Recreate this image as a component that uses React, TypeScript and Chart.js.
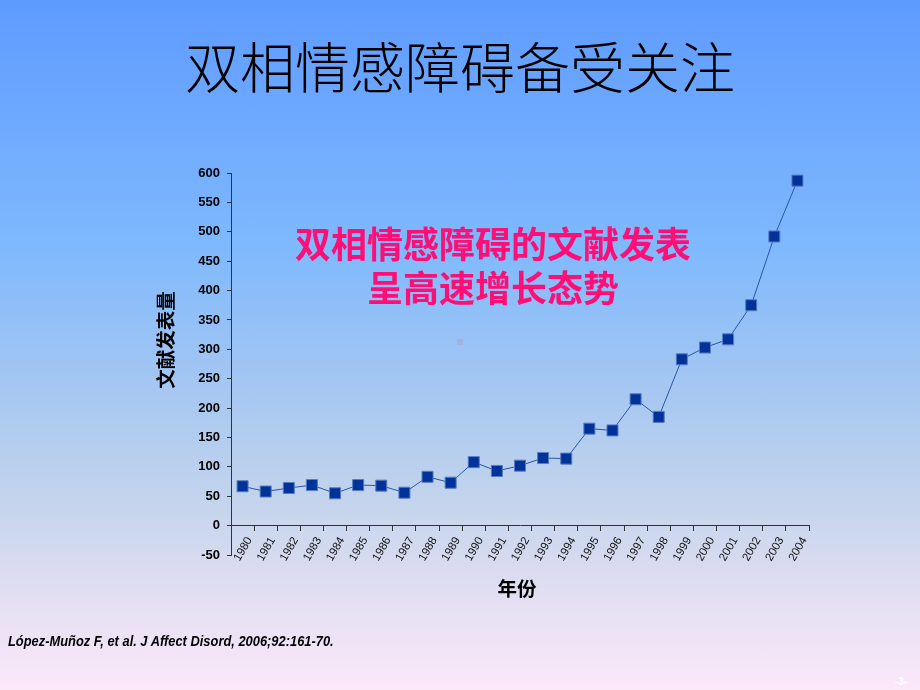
import React, { useEffect, useRef } from "react";
import { Chart, registerables } from "chart.js";

Chart.register(...registerables);

const years: string[] = [
  "1980", "1981", "1982", "1983", "1984", "1985", "1986", "1987", "1988", "1989",
  "1990", "1991", "1992", "1993", "1994", "1995", "1996", "1997", "1998", "1999",
  "2000", "2001", "2002", "2003", "2004",
];
const publications: number[] = [
  67, 58, 64, 69, 55, 69, 68, 56, 83, 73,
  108, 93, 102, 115, 114, 165, 162, 215, 185, 283,
  303, 317, 375, 492, 587,
];
const yMin = -50;
const yMax = 600;
const yStep = 50;

const titleText = "双相情感障碍备受关注";
const noteLines: string[] = ["双相情感障碍的文献发表", "呈高速增长态势"];
const yTitle = "文献发表量";
const xTitle = "年份";
const citation = "López-Muñoz F, et al. J Affect Disord, 2006;92:161-70.";
const pageNo = "-3-";

export default function App() {
  const canvasRef = useRef<HTMLCanvasElement | null>(null);

  useEffect(() => {
    document.body.style.margin = "0";
    const canvas = canvasRef.current;
    if (!canvas) return;
    const chart = new Chart(canvas, {
      type: "line",
      data: {
        labels: years,
        datasets: [
          {
            data: publications,
            borderColor: "#2a56a8",
            borderWidth: 1,
            pointStyle: "rect",
            pointRadius: 7.8,
            pointHoverRadius: 7.8,
            pointBackgroundColor: "#003399",
            pointBorderColor: "#5a7cc0",
            pointBorderWidth: 1,
            fill: false,
            tension: 0,
          },
        ],
      },
      options: {
        responsive: false,
        animation: false,
        layout: { padding: { left: 151, top: 173, right: 111, bottom: 135 } },
        plugins: {
          legend: { display: false },
          tooltip: { enabled: false },
        },
        scales: {
          x: {
            type: "category",
            position: { y: 0 } as any,
            offset: true,
            grid: {
              offset: true,
              drawOnChartArea: false,
              tickLength: 5,
              color: "#333",
            },
            border: { display: true, color: "#333", width: 1 },
            ticks: {
              autoSkip: false,
              minRotation: 60,
              maxRotation: 60,
              padding: 4,
              labelOffset: 7,
              color: "#111",
              font: { family: "'Liberation Sans', Arial, sans-serif", size: 11.5 },
            },
          },
          y: {
            type: "linear",
            position: "left",
            min: yMin,
            max: yMax,
            afterFit: (s: any) => {
              s.width = 80;
            },
            grid: {
              drawOnChartArea: false,
              tickLength: 4,
              color: "#333",
            },
            border: { display: true, color: "#333", width: 1 },
            ticks: {
              stepSize: yStep,
              padding: 7,
              color: "#000",
              font: { family: "'Liberation Sans', Arial, sans-serif", size: 13, weight: "bold" },
            },
          },
        },
      },
    });
    return () => chart.destroy();
  }, []);

  const cjk = "'Noto Sans CJK SC', 'Noto Sans', sans-serif";

  return (
    <div
      style={{
        position: "relative",
        width: 920,
        height: 690,
        overflow: "hidden",
        background:
          "linear-gradient(to bottom, #5e9bff 0%, #72adff 22%, #7fb9fd 36%, #a3c6f2 55%, #c6d5ec 74%, #e6e0f3 88%, #fbe8f9 100%)",
      }}
    >
      <div
        style={{
          position: "absolute",
          left: 0,
          width: 920,
          top: 34,
          textAlign: "center",
          fontFamily: cjk,
          fontWeight: 300,
          fontSize: 55,
          lineHeight: "60px",
          color: "#000",
          whiteSpace: "nowrap",
        }}
      >
        {titleText}
      </div>
      <canvas
        ref={canvasRef}
        width={920}
        height={690}
        style={{ position: "absolute", left: 0, top: 0, width: 920, height: 690 }}
      />
      <div
        style={{
          position: "absolute",
          left: 293,
          width: 400,
          top: 220,
          textAlign: "center",
          fontFamily: cjk,
          fontWeight: 700,
          fontSize: 36,
          lineHeight: "44px",
          color: "#ff0f75",
          whiteSpace: "nowrap",
        }}
      >
        {noteLines.map((l, i) => (
          <div key={i}>{l}</div>
        ))}
      </div>
      <div
        style={{
          position: "absolute",
          left: 457,
          top: 339,
          width: 6,
          height: 6,
          background: "#9db6d8",
        }}
      />
      <div
        style={{
          position: "absolute",
          left: 165 - 60,
          top: 340 - 12,
          width: 120,
          height: 24,
          lineHeight: "24px",
          textAlign: "center",
          transform: "rotate(-90deg)",
          fontFamily: cjk,
          fontWeight: 700,
          fontSize: 19.5,
          color: "#000",
          whiteSpace: "nowrap",
        }}
      >
        {yTitle}
      </div>
      <div
        style={{
          position: "absolute",
          left: 457,
          width: 120,
          top: 576,
          lineHeight: "24px",
          textAlign: "center",
          fontFamily: cjk,
          fontWeight: 700,
          fontSize: 19.5,
          color: "#000",
          whiteSpace: "nowrap",
        }}
      >
        {xTitle}
      </div>
      <div
        style={{
          position: "absolute",
          left: 8,
          top: 632,
          fontFamily: "'Liberation Sans Narrow', 'Liberation Sans', Arial, sans-serif",
          fontWeight: 700,
          fontStyle: "italic",
          fontSize: 14,
          lineHeight: "18px",
          color: "#000",
          whiteSpace: "nowrap",
          transform: "scaleX(0.92)",
          transformOrigin: "left center",
        }}
      >
        {citation}
      </div>
      <div
        style={{
          position: "absolute",
          left: 895,
          top: 676,
          fontFamily: "'Liberation Sans', Arial, sans-serif",
          fontWeight: 700,
          fontSize: 10,
          lineHeight: "12px",
          color: "#fff",
          whiteSpace: "nowrap",
        }}
      >
        {pageNo}
      </div>
    </div>
  );
}
